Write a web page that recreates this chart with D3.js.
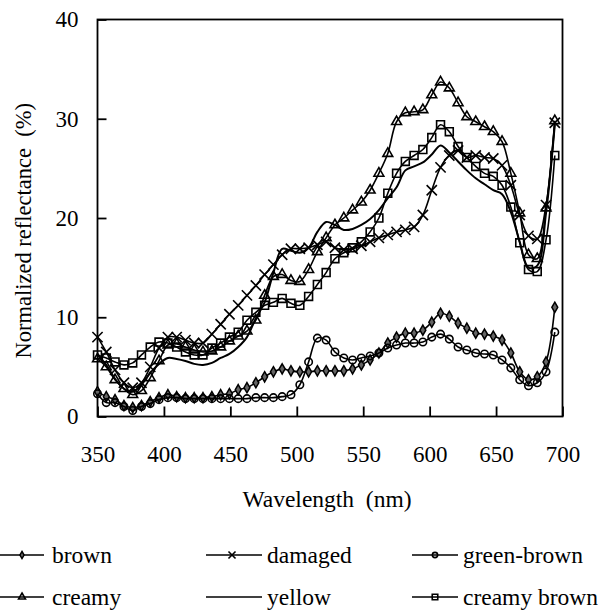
<!DOCTYPE html>
<html>
<head>
<meta charset="utf-8">
<script src="https://cdn.jsdelivr.net/npm/d3@7"></script>
<style>
  html, body { margin: 0; padding: 0; background: #fff; }
  svg { display: block; }
  svg text { fill: #000; white-space: pre; }
</style>
</head>
<body>
<svg id="chart" width="607" height="613"></svg>
<script>
// ---------- data ----------
const wavelength = [350, 356.6, 363.2, 369.9, 376.5, 383.1, 389.7, 396.3, 403, 409.6,
  416.2, 422.8, 429.4, 436.1, 442.7, 449.3, 455.9, 462.5, 469.2, 475.8,
  482.4, 489, 495.6, 502.3, 508.9, 515.5, 522.1, 528.7, 535.4, 542,
  548.6, 555.2, 561.8, 568.5, 575.1, 581.7, 588.3, 594.9, 601.6, 608.2,
  614.8, 621.4, 628, 634.7, 641.3, 647.9, 654.5, 661.1, 667.8, 674.4,
  681, 687.6, 694.2];

const brown = [2.5, 2.0, 1.7, 1.1, 0.9, 1.1, 1.5, 1.9, 2.2, 2.0,
  1.9, 1.9, 1.9, 2.0, 2.2, 2.3, 2.7, 2.9, 3.4, 4.0,
  4.5, 4.8, 4.6, 4.5, 4.5, 4.6, 4.6, 4.6, 4.6, 4.8,
  5.2, 5.7, 6.4, 7.4, 8.0, 8.4, 8.4, 8.7, 9.5, 10.4,
  10.1, 9.4, 8.9, 8.4, 8.3, 8.1, 7.7, 6.4, 4.5, 3.7,
  4.0, 5.5, 11.0];

const damaged = [8.0, 6.5, 4.7, 3.4, 2.9, 3.4, 5.0, 6.9, 8.0, 8.0,
  7.7, 7.4, 7.4, 8.3, 9.3, 10.3, 11.2, 12.2, 13.2, 14.3,
  15.3, 16.3, 16.9, 16.9, 17.0, 17.3, 17.6, 17.0, 16.8, 16.9,
  17.2, 17.6, 18.0, 18.3, 18.6, 18.8, 19.1, 20.3, 22.8, 25.1,
  26.3, 26.8, 26.1, 26.3, 26.1, 26.0, 25.3, 23.3, 20.3, 18.2,
  17.9, 21.3, 29.6];

const greenBrown = [2.3, 1.4, 1.4, 1.0, 0.6, 1.0, 1.3, 1.7, 1.9, 1.9,
  1.8, 1.8, 1.8, 1.8, 1.8, 1.8, 1.8, 1.8, 1.9, 1.9,
  1.9, 2.0, 2.2, 3.2, 5.5, 7.9, 7.7, 6.5, 5.9, 5.7,
  5.9, 6.1, 6.4, 6.9, 7.2, 7.4, 7.4, 7.5, 8.0, 8.3,
  7.8, 7.0, 6.7, 6.4, 6.3, 6.2, 5.7, 4.9, 3.7, 3.1,
  3.4, 4.5, 8.5];

const creamy = [5.8, 5.0, 3.7, 2.8, 2.2, 2.6, 3.9, 5.6, 7.2, 7.3,
  7.0, 6.7, 6.5, 6.6, 7.0, 7.6, 8.1, 8.6, 9.7, 12.2,
  14.1, 14.3, 13.7, 13.6, 14.8, 16.6, 18.0, 19.3, 20.0, 20.8,
  21.6, 22.8, 24.5, 26.5, 29.7, 30.6, 30.7, 30.9, 32.4, 33.7,
  33.1, 31.6, 30.2, 29.7, 29.2, 28.7, 27.7, 24.5, 20.5, 16.3,
  15.9, 21.0, 29.8];

const yellow = [6.2, 5.2, 3.8, 2.8, 2.5, 3.2, 4.4, 5.3, 5.9, 5.8,
  5.6, 5.3, 5.2, 5.4, 5.9, 6.3, 7.0, 8.0, 9.9, 11.5,
  14.5, 16.9, 16.7, 16.5, 17.0, 18.6, 19.6, 19.3, 18.8, 18.9,
  19.3, 19.9, 20.8, 22.0, 23.1, 24.8, 25.2, 25.6, 26.4, 27.3,
  26.6, 25.7, 24.8, 24.0, 23.4, 22.8, 22.4, 20.6, 17.6, 15.0,
  15.2, 20.5, 29.4];

const creamyBrown = [6.2, 5.9, 5.5, 5.2, 5.4, 6.2, 7.0, 7.5, 7.4, 7.0,
  6.5, 6.2, 6.2, 6.9, 7.4, 8.0, 8.5, 9.7, 10.5, 11.2,
  11.5, 11.9, 11.4, 11.2, 12.1, 13.3, 14.5, 15.9, 16.5, 17.0,
  17.6, 18.6, 20.0, 22.5, 24.5, 25.7, 26.3, 26.9, 28.1, 29.4,
  28.7, 27.2, 26.1, 25.2, 24.5, 24.2, 23.3, 21.1, 17.5, 14.8,
  14.6, 17.8, 26.3];

const seriesNames = ["brown", "damaged", "green-brown", "creamy", "yellow", "creamy brown"];
const xTicks = [350, 400, 450, 500, 550, 600, 650, 700];
const yTicks = [0, 10, 20, 30, 40];

// ---------- pick an installed serif face ----------
function pickSerif() {
  const cands = ["Liberation Serif", "Times New Roman", "Tinos", "Nimbus Roman", "Nimbus Roman No9 L",
                 "DejaVu Serif", "Noto Serif", "FreeSerif", "Times"];
  const c = document.createElement("canvas").getContext("2d");
  const probe = "Wavelength reflectance 0123456789 mmmWWWiii";
  function w(f) { c.font = "40px " + f; return c.measureText(probe).width; }
  const base1 = w("monospace"), base2 = w("sans-serif");
  for (const f of cands) {
    const a = w(`'${f}', monospace`), b = w(`'${f}', sans-serif`);
    if (Math.abs(a - base1) > 0.5 && Math.abs(b - base2) > 0.5 && Math.abs(a - b) < 0.5) return `'${f}', serif`;
  }
  return "serif";
}
const FONT = pickSerif();

// ---------- layout ----------
const svg = d3.select("#chart");
const x = d3.scaleLinear().domain([350, 700]).range([97.5, 562.5]);
const y = d3.scaleLinear().domain([0, 40]).range([416.5, 19.5]);

const series = [
  { name: seriesNames[0], values: brown, marker: "diamond" },
  { name: seriesNames[1], values: damaged, marker: "x" },
  { name: seriesNames[2], values: greenBrown, marker: "circle" },
  { name: seriesNames[3], values: creamy, marker: "triangle" },
  { name: seriesNames[4], values: yellow, marker: null },
  { name: seriesNames[5], values: creamyBrown, marker: "square" }
];

function markerPath(type, scale) {
  const s = scale || 1;
  switch (type) {
    case "diamond": return d3.symbol(d3.symbolDiamond, 30 * s * s)();
    case "x": return d3.symbol(d3.symbolTimes, 70 * s * s)();
    case "circle": return d3.symbol(d3.symbolCircle, 44 * s * s)();
    case "triangle": return d3.symbol(d3.symbolTriangle, 42 * s * s)();
    case "square": return d3.symbol(d3.symbolSquare, 62 * s * s)();
  }
  return null;
}
function styleMarker(sel, type) {
  if (type === "diamond") sel.attr("fill", "#666").attr("stroke", "#000").attr("stroke-width", 1.5);
  else sel.attr("fill", "none").attr("stroke", "#000").attr("stroke-width", 1.6);
}

// axes
const xAxis = svg.append("g")
  .attr("transform", `translate(0,${y(0)})`)
  .call(d3.axisBottom(x).tickValues(xTicks).tickSize(-10).tickPadding(29).tickFormat(d3.format("d")));
xAxis.attr("font-family", FONT).attr("font-size", 23);
xAxis.select(".domain").remove();
xAxis.selectAll(".tick line").attr("stroke", "#000").attr("stroke-width", 1.8);
xAxis.selectAll(".tick text").style("font-size", "23px").style("font-family", FONT).attr("fill", "#000");

const yAxis = svg.append("g")
  .attr("transform", `translate(${x(350)},0)`)
  .call(d3.axisLeft(y).tickValues(yTicks).tickSize(-9).tickPadding(19).tickFormat(d3.format("d")));
yAxis.attr("font-family", FONT).attr("font-size", 23);
yAxis.select(".domain").remove();
yAxis.selectAll(".tick line").attr("stroke", "#000").attr("stroke-width", 1.8);
yAxis.selectAll(".tick text").style("font-size", "23px").style("font-family", FONT).attr("fill", "#000");

// frame
svg.append("rect")
  .attr("x", x(350)).attr("y", y(40))
  .attr("width", x(700) - x(350)).attr("height", y(0) - y(40))
  .attr("fill", "none").attr("stroke", "#000").attr("stroke-width", 1.8);

// lines
const line = d3.line()
  .x((d, i) => x(wavelength[i]))
  .y(d => y(d))
  .curve(d3.curveCatmullRom.alpha(0.5));

const plot = svg.append("g");
series.forEach(s => {
  plot.append("path")
    .datum(s.values)
    .attr("d", line)
    .attr("fill", "none")
    .attr("stroke", "#000")
    .attr("stroke-width", s.marker ? 1.6 : 2);
  if (s.marker) {
    const m = plot.append("g").selectAll("path")
      .data(s.values)
      .join("path")
      .attr("transform", (d, i) => `translate(${x(wavelength[i])},${y(d)})`)
      .attr("d", markerPath(s.marker));
    styleMarker(m, s.marker);
  }
});

// axis titles
svg.append("text")
  .attr("x", 327).attr("y", 507)
  .attr("text-anchor", "middle")
  .style("font-family", FONT).style("font-size", "23.5px")
  .text("Wavelength  (nm)");

svg.append("text")
  .attr("transform", "translate(31,103) rotate(-90)")
  .attr("text-anchor", "end")
  .style("font-family", FONT).style("font-size", "22.5px")
  .text("Normalized reflectance  (%)");

// legend
const legendPos = [
  { lx1: -4, lx2: 44, mx: 22, tx: 52, ly: 555, ty: 563 },
  { lx1: 206, lx2: 262, mx: 232, tx: 267, ly: 555, ty: 563 },
  { lx1: 412, lx2: 458, mx: 435, tx: 463, ly: 555, ty: 563 },
  { lx1: -4, lx2: 44, mx: 22, tx: 52, ly: 597, ty: 605 },
  { lx1: 206, lx2: 262, mx: 232, tx: 267, ly: 597, ty: 605 },
  { lx1: 412, lx2: 458, mx: 435, tx: 463, ly: 597, ty: 605 }
];
const legend = svg.append("g");
series.forEach((s, i) => {
  const p = legendPos[i];
  legend.append("line")
    .attr("x1", p.lx1).attr("x2", p.lx2).attr("y1", p.ly).attr("y2", p.ly)
    .attr("stroke", "#000").attr("stroke-width", 1.6);
  if (s.marker) {
    const m = legend.append("path")
      .attr("transform", `translate(${p.mx},${p.ly})`)
      .attr("d", markerPath(s.marker, 0.7));
    styleMarker(m, s.marker);
  }
  legend.append("text")
    .attr("x", p.tx).attr("y", p.ty)
    .style("font-family", FONT).style("font-size", "23.5px")
    .text(s.name);
});
</script>
</body>
</html>
